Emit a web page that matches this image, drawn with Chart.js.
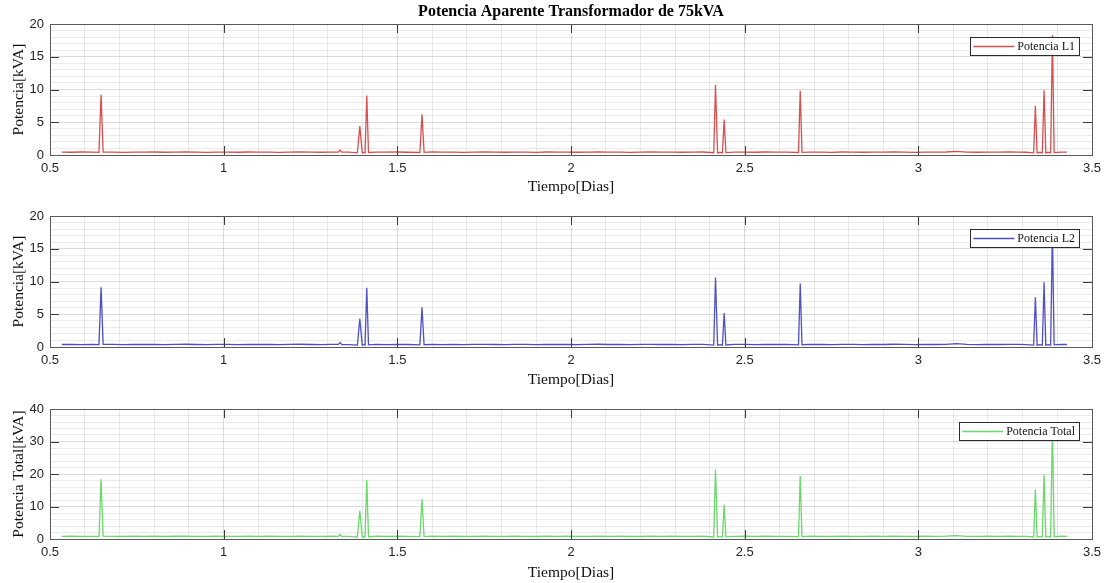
<!DOCTYPE html>
<html><head><meta charset="utf-8">
<script src="https://cdn.jsdelivr.net/npm/chart.js@4.4.1/dist/chart.umd.min.js"></script>
<style>
html,body{margin:0;padding:0;background:#fff;}
#wrap{position:relative;width:1109px;height:583px;overflow:hidden;background:#fff;}
canvas{position:absolute;left:0;}
</style></head><body>
<div id="wrap">
<canvas id="c1" width="1109" height="196" style="top:0px"></canvas>
<canvas id="c2" width="1109" height="196" style="top:193px"></canvas>
<canvas id="c3" width="1109" height="196" style="top:386px"></canvas>
</div>
<script>
const titleText = 'Potencia Aparente Transformador de 75kVA';
const xTitle = 'Tiempo[Dias]';
const yTitleL = 'Potencia[kVA]';
const yTitleT = 'Potencia Total[kVA]';
const seriesNames = ['Potencia L1', 'Potencia L2', 'Potencia Total'];

const days = [
  0.534, 0.56, 0.59, 0.62, 0.641, 0.647, 0.653, 0.68, 0.71, 0.74,
  0.77, 0.80, 0.83, 0.86, 0.89, 0.92, 0.95, 0.98, 1.01, 1.04,
  1.07, 1.10, 1.13, 1.16, 1.19, 1.22, 1.25, 1.28, 1.31, 1.330,
  1.335, 1.340, 1.36, 1.385, 1.392, 1.399, 1.403, 1.407, 1.412, 1.417,
  1.44, 1.47, 1.50, 1.53, 1.565, 1.571, 1.577, 1.60, 1.63, 1.66,
  1.69, 1.72, 1.75, 1.78, 1.81, 1.84, 1.87, 1.90, 1.93, 1.96,
  1.99, 2.02, 2.05, 2.08, 2.11, 2.14, 2.17, 2.20, 2.23, 2.26,
  2.29, 2.32, 2.35, 2.38, 2.411, 2.416, 2.422, 2.429, 2.436, 2.441,
  2.446, 2.47, 2.50, 2.53, 2.56, 2.59, 2.62, 2.655, 2.660, 2.665,
  2.69, 2.72, 2.75, 2.78, 2.81, 2.84, 2.87, 2.90, 2.93, 2.96,
  2.99, 3.02, 3.05, 3.08, 3.11, 3.14, 3.17, 3.20, 3.23, 3.26,
  3.29, 3.31, 3.332, 3.337, 3.342, 3.350, 3.357, 3.362, 3.367, 3.374,
  3.381, 3.386, 3.391, 3.41, 3.428
];

const potenciaL1 = [
  0.45, 0.42, 0.46, 0.43, 0.40, 9.2, 0.45, 0.44, 0.41, 0.45,
  0.43, 0.46, 0.42, 0.44, 0.47, 0.43, 0.41, 0.45, 0.44, 0.42,
  0.46, 0.43, 0.45, 0.41, 0.44, 0.46, 0.43, 0.42, 0.45, 0.44,
  0.75, 0.44, 0.43, 0.32, 4.4, 0.33, 0.40, 0.32, 9.1, 0.38,
  0.45, 0.43, 0.46, 0.42, 0.38, 6.2, 0.40, 0.47, 0.43, 0.45,
  0.41, 0.44, 0.46, 0.43, 0.42, 0.45, 0.44, 0.41, 0.46, 0.43,
  0.45, 0.42, 0.44, 0.47, 0.43, 0.45, 0.41, 0.44, 0.46, 0.43,
  0.45, 0.42, 0.44, 0.46, 0.34, 10.7, 0.33, 0.42, 0.33, 5.4,
  0.36, 0.44, 0.45, 0.42, 0.46, 0.43, 0.44, 0.38, 9.8, 0.40,
  0.45, 0.43, 0.41, 0.46, 0.44, 0.42, 0.45, 0.43, 0.47, 0.44,
  0.41, 0.45, 0.43, 0.46, 0.55, 0.44, 0.42, 0.45, 0.43, 0.46,
  0.44, 0.42, 0.33, 7.5, 0.33, 0.42, 0.33, 9.9, 0.33, 0.42,
  0.33, 18.3, 0.36, 0.45, 0.43
];

const potenciaL2 = [
  0.38, 0.41, 0.37, 0.40, 0.36, 9.1, 0.42, 0.39, 0.37, 0.40,
  0.38, 0.41, 0.36, 0.40, 0.42, 0.38, 0.37, 0.41, 0.39, 0.36,
  0.40, 0.38, 0.41, 0.37, 0.39, 0.42, 0.38, 0.36, 0.40, 0.39,
  0.70, 0.38, 0.37, 0.28, 4.3, 0.29, 0.36, 0.28, 9.05, 0.32,
  0.40, 0.37, 0.41, 0.38, 0.33, 6.06, 0.35, 0.41, 0.37, 0.40,
  0.36, 0.39, 0.41, 0.38, 0.37, 0.40, 0.39, 0.36, 0.41, 0.38,
  0.40, 0.37, 0.39, 0.42, 0.38, 0.40, 0.36, 0.39, 0.41, 0.38,
  0.40, 0.37, 0.39, 0.41, 0.29, 10.6, 0.28, 0.37, 0.28, 5.2,
  0.31, 0.39, 0.40, 0.37, 0.41, 0.38, 0.39, 0.33, 9.7, 0.35,
  0.40, 0.38, 0.36, 0.41, 0.39, 0.37, 0.40, 0.38, 0.42, 0.39,
  0.36, 0.40, 0.38, 0.41, 0.50, 0.39, 0.37, 0.40, 0.38, 0.41,
  0.39, 0.37, 0.28, 7.6, 0.28, 0.37, 0.28, 9.9, 0.28, 0.37,
  0.28, 17.8, 0.32, 0.40, 0.38
];

const potenciaTotal = [
  0.82, 0.84, 0.80, 0.83, 0.76, 18.4, 0.88, 0.83, 0.78, 0.85,
  0.81, 0.87, 0.78, 0.84, 0.90, 0.81, 0.78, 0.86, 0.83, 0.78,
  0.86, 0.81, 0.86, 0.78, 0.83, 0.88, 0.81, 0.78, 0.85, 0.83,
  1.45, 0.82, 0.80, 0.60, 8.7, 0.62, 0.76, 0.60, 18.2, 0.70,
  0.85, 0.80, 0.87, 0.80, 0.71, 12.3, 0.75, 0.88, 0.80, 0.85,
  0.77, 0.83, 0.87, 0.81, 0.79, 0.85, 0.83, 0.77, 0.87, 0.81,
  0.85, 0.79, 0.83, 0.89, 0.81, 0.85, 0.77, 0.83, 0.87, 0.81,
  0.85, 0.79, 0.83, 0.87, 0.63, 21.3, 0.61, 0.79, 0.61, 10.5,
  0.67, 0.83, 0.85, 0.79, 0.87, 0.81, 0.83, 0.71, 19.4, 0.75,
  0.85, 0.81, 0.77, 0.87, 0.83, 0.79, 0.85, 0.81, 0.89, 0.83,
  0.77, 0.85, 0.81, 0.87, 1.05, 0.83, 0.79, 0.85, 0.81, 0.87,
  0.83, 0.79, 0.61, 15.2, 0.61, 0.79, 0.61, 19.8, 0.61, 0.79,
  0.61, 35.0, 0.68, 0.85, 0.81
];

const xTickLabels = ['0.5', '1', '1.5', '2', '2.5', '3', '3.5'];
const yTickLabelsL = ['0', '5', '10', '15', '20'];
const yTickLabelsT = ['0', '10', '20', '30', '40'];

const SERIF = '"Liberation Serif", "Times New Roman", serif';
const SANS = '"Liberation Sans", Arial, Helvetica, sans-serif';

function fmt(v) { return String(Math.round(v * 10) / 10); }

const frame = {
  id: 'frame',
  afterDatasetsDraw(chart) {
    const {ctx, chartArea: a, scales} = chart;
    ctx.save();
    ctx.strokeStyle = '#3a3a3a';
    ctx.lineWidth = 1;
    const tl = 9;
    ctx.beginPath();
    scales.x.ticks.forEach(t => {
      if (scales.x.options.majorLabels.includes(fmt(t.value))) {
        const x = Math.round(scales.x.getPixelForValue(t.value)) + 0.5;
        ctx.moveTo(x, a.bottom); ctx.lineTo(x, a.bottom - tl);
        ctx.moveTo(x, a.top); ctx.lineTo(x, a.top + tl);
      }
    });
    scales.y.ticks.forEach(t => {
      if (scales.y.options.majorLabels.includes(fmt(t.value))) {
        const y = Math.round(scales.y.getPixelForValue(t.value)) + 0.5;
        ctx.moveTo(a.left, y); ctx.lineTo(a.left + tl, y);
        ctx.moveTo(a.right, y); ctx.lineTo(a.right - tl, y);
      }
    });
    ctx.stroke();
    ctx.strokeStyle = '#5a5a5a';
    ctx.strokeRect(Math.round(a.left) + 0.5, Math.round(a.top) + 0.5,
                   Math.round(a.right - a.left), Math.round(a.bottom - a.top));
    ctx.restore();
  },
  afterDraw(chart) {
    const {ctx, chartArea: a} = chart;
    const ds = chart.data.datasets[0];
    ctx.save();
    ctx.font = '12px ' + SERIF;
    const tw = ctx.measureText(ds.label).width;
    const w = 3 + 41 + 3 + tw + 4;
    const h = 18;
    const right = a.right - 13;
    const left = right - w;
    const top = a.top + 13;
    ctx.fillStyle = '#fff';
    ctx.fillRect(left, top, w, h);
    ctx.strokeStyle = '#2b2b2b';
    ctx.lineWidth = 1;
    ctx.strokeRect(Math.round(left) + 0.5, Math.round(top) + 0.5, Math.round(w), h);
    ctx.strokeStyle = ds.borderColor;
    ctx.lineWidth = 1.3;
    ctx.beginPath();
    ctx.moveTo(left + 3, top + h / 2 + 0.5);
    ctx.lineTo(left + 44, top + h / 2 + 0.5);
    ctx.stroke();
    ctx.fillStyle = '#111';
    ctx.textBaseline = 'middle';
    ctx.textAlign = 'left';
    ctx.fillText(ds.label, left + 47, top + h / 2 + 1);
    ctx.restore();
  }
};

function makeChart(id, label, values, color, yMax, yStep, yLabels, yTitle, xAxisH, padTop, showTitle) {
  const pts = days.map((d, i) => ({x: d, y: values[i]}));
  return new Chart(document.getElementById(id), {
    type: 'line',
    data: {
      datasets: [{
        label: label,
        data: pts,
        borderColor: color,
        borderWidth: 1.3,
        pointRadius: 0,
        tension: 0,
        fill: false
      }]
    },
    options: {
      responsive: false,
      animation: false,
      events: [],
      layout: {padding: {top: padTop, right: 17, left: 0, bottom: 0}},
      plugins: {
        legend: {display: false},
        tooltip: {enabled: false},
        title: {
          display: showTitle,
          text: titleText,
          fullSize: false,
          color: '#000',
          font: {family: SERIF, size: 16, weight: 'bold', lineHeight: 1.2},
          padding: {top: 2, bottom: 2.8}
        }
      },
      scales: {
        x: {
          type: 'linear',
          min: 0.5, max: 3.5,
          majorLabels: xTickLabels,
          border: {display: false},
          afterFit(s) { s.height = xAxisH; },
          grid: {
            drawTicks: false,
            lineWidth: 1,
            color: c => xTickLabels.includes(fmt(c.tick.value)) ? 'rgba(0,0,0,0.14)' : 'rgba(0,0,0,0.08)'
          },
          ticks: {
            stepSize: 0.1,
            autoSkip: false,
            maxRotation: 0,
            padding: 6,
            color: '#262626',
            font: {family: SANS, size: 13},
            callback: v => xTickLabels.includes(fmt(v)) ? fmt(v) : ''
          },
          title: {
            display: true,
            text: xTitle,
            color: '#111',
            font: {family: SERIF, size: 15.5, lineHeight: 1.2},
            padding: {top: 0, bottom: 0}
          }
        },
        y: {
          type: 'linear',
          min: 0, max: yMax,
          majorLabels: yLabels,
          border: {display: false},
          afterFit(s) { s.width = 50; },
          grid: {
            drawTicks: false,
            lineWidth: 1,
            color: c => yLabels.includes(fmt(c.tick.value)) ? 'rgba(0,0,0,0.14)' : 'rgba(0,0,0,0.08)'
          },
          ticks: {
            stepSize: yStep,
            autoSkip: false,
            padding: 6,
            color: '#262626',
            font: {family: SANS, size: 13},
            callback: v => yLabels.includes(fmt(v)) ? fmt(v) : ''
          },
          title: {
            display: true,
            text: yTitle,
            color: '#111',
            font: {family: SERIF, size: 15.5, lineHeight: 1.2},
            padding: {top: 10, bottom: 0}
          }
        }
      }
    },
    plugins: [frame]
  });
}

makeChart('c1', seriesNames[0], potenciaL1, '#d94f4f', 20, 1, yTickLabelsL, yTitleL, 41, 0, true);
makeChart('c2', seriesNames[1], potenciaL2, '#4f4fc8', 20, 1, yTickLabelsL, yTitleL, 42, 23, false);
makeChart('c3', seriesNames[2], potenciaTotal, '#6ad86a', 40, 2, yTickLabelsT, yTitleT, 43, 23, false);
</script>
</body></html>
